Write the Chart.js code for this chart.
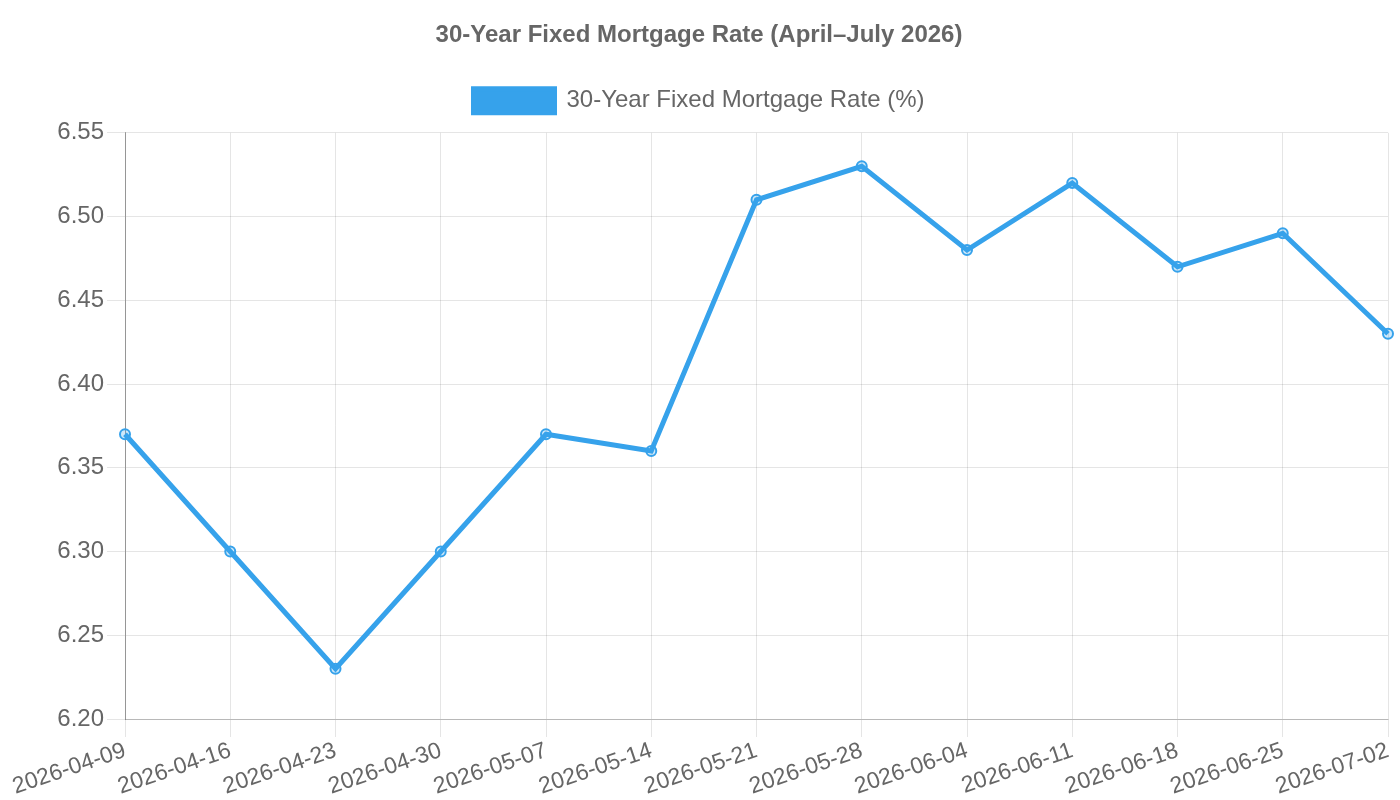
<!DOCTYPE html>
<html>
<head>
<meta charset="utf-8">
<script src="https://cdn.jsdelivr.net/npm/chart.js@4"></script>
<style>
  html, body { margin: 0; padding: 0; background: #fff; }
  #wrap { width: 1400px; height: 800px; }
</style>
</head>
<body>
<div id="wrap"><canvas id="rateChart"></canvas></div>
<script>
const dates = ['2026-04-09', '2026-04-16', '2026-04-23', '2026-04-30', '2026-05-07', '2026-05-14',
    '2026-05-21', '2026-05-28', '2026-06-04', '2026-06-11', '2026-06-18', '2026-06-25', '2026-07-02'];
const rates = [6.37, 6.30, 6.23, 6.30, 6.37, 6.36, 6.51, 6.53, 6.48, 6.52, 6.47, 6.49, 6.43];
const yMin = 6.20;
const yMax = 6.55;
const yStep = 0.05;

Chart.defaults.font.family = '"Liberation Sans", Arial, sans-serif';
Chart.defaults.color = '#666';

// a bit more room between the legend and the plot
const legendGap = {
    id: 'legendGap',
    beforeInit(chart) {
        const fit = chart.legend.fit;
        chart.legend.fit = function () {
            fit.bind(chart.legend)();
            this.height += 10;
        };
    }
};

const ctx = document.getElementById('rateChart').getContext('2d');
new Chart(ctx, {
    type: 'line',
    data: {
        labels: dates,
        datasets: [{
            label: '30-Year Fixed Mortgage Rate (%)',
            data: rates,
            borderColor: '#36A2EB',
            backgroundColor: '#36A2EB',
            pointBackgroundColor: 'rgba(54, 162, 235, 0.25)',
            pointBorderColor: '#36A2EB',
            pointBorderWidth: 2,
            pointRadius: 5,
            borderWidth: 5,
            tension: 0,
            fill: false
        }]
    },
    options: {
        responsive: true,
        maintainAspectRatio: false,
        animation: false,
        layout: { padding: { left: 10, right: 12, bottom: 0 } },
        plugins: {
            title: {
                display: true,
                text: '30-Year Fixed Mortgage Rate (April–July 2026)',
                font: { size: 24, weight: 'bold' },
                padding: { top: 21, bottom: 22 }
            },
            legend: {
                labels: {
                    font: { size: 24 },
                    boxWidth: 81,
                    padding: 17
                }
            }
        },
        scales: {
            x: {
                ticks: { font: { size: 23 }, padding: 0 },
                grid: { color: 'rgba(0,0,0,0.1)', tickLength: 18 },
                border: { color: 'rgba(0,0,0,0.2)' },
                afterFit(scale) { scale.height = 81; }
            },
            y: {
                min: yMin,
                max: yMax,
                ticks: {
                    stepSize: yStep,
                    font: { size: 24 },
                    padding: 3,
                    callback: v => v.toFixed(2)
                },
                grid: { color: 'rgba(0,0,0,0.1)', tickLength: 18 },
                border: { color: 'rgba(0,0,0,0.35)' },
                afterFit(scale) { scale.width = 115; }
            }
        }
    },
    plugins: [legendGap]
});
</script>
</body>
</html>
